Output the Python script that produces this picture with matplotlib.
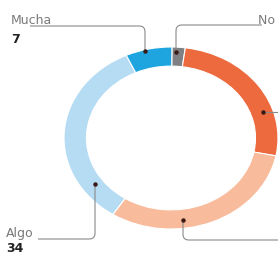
import matplotlib
matplotlib.use("Agg")
import matplotlib.pyplot as plt
import numpy as np

# ---- data ----
categories = ["No sabe", "Nada", "Poca", "Algo", "Mucha"]
values = [2, 26, 31, 34, 7]
colors = ["#7f8083", "#ec6a3e", "#f8bb9b", "#b6dcf4", "#1ea4de"]

W, H = 278, 255
fig = plt.figure(figsize=(W / 100, H / 100), dpi=100)

# pie axes (elliptical ring)
cx, cy, rx, ry = 171, 139, 107, 91
axp = fig.add_axes([(cx - rx) / W, (H - (cy + ry)) / H, 2 * rx / W, 2 * ry / H])
axp.pie(values, colors=colors, startangle=89.5, counterclock=False,
        radius=1.0, wedgeprops=dict(width=0.21, edgecolor="white", linewidth=0.8))
axp.set_aspect("auto")
axp.set_xlim(-1, 1)
axp.set_ylim(-1, 1)
axp.axis("off")

# overlay axes in pixel coordinates for leader lines and labels
ax = fig.add_axes([0, 0, 1, 1], zorder=5)
ax.set_xlim(0, W)
ax.set_ylim(H, 0)
ax.axis("off")
ax.patch.set_alpha(0)

line_col = "#8a8a8a"
r = 6


def rounded(points, rad):
    pts = [np.array(p, float) for p in points]
    out = [pts[0]]
    for i in range(1, len(pts) - 1):
        p0, p1, p2 = pts[i - 1], pts[i], pts[i + 1]
        d1 = (p1 - p0) / np.linalg.norm(p1 - p0)
        d2 = (p2 - p1) / np.linalg.norm(p2 - p1)
        a = p1 - d1 * rad
        b = p1 + d2 * rad
        t = np.linspace(0, 1, 12)
        curve = ((1 - t) ** 2)[:, None] * a + (2 * (1 - t) * t)[:, None] * p1 + (t ** 2)[:, None] * b
        out.extend(curve)
    out.append(pts[-1])
    out = np.array(out)
    return out[:, 0], out[:, 1]


leaders = [
    [(145, 52), (145, 27), (30, 27)],     # Mucha
    [(176, 53), (176, 26), (262, 26)],    # No sabe
    [(263, 113), (280, 113)],             # Nada
    [(183, 221), (183, 241), (280, 241)], # Poca
    [(95, 185), (95, 240), (38, 240)],    # Algo
]
for pts in leaders:
    xs, ys = rounded(pts, r)
    ax.plot(xs, ys, color=line_col, lw=0.8, solid_capstyle="butt")
    ax.plot([pts[0][0]], [pts[0][1]], "o", color="#3a1a14", ms=2.2)

lab_col = "#7a7a7a"
num_col = "#222222"
fs = 9
ax.text(11, 24.5, categories[4], fontsize=fs, color=lab_col, va="baseline", ha="left")
ax.text(11, 43, str(values[4]), fontsize=fs, color=num_col, fontweight="bold", va="baseline", ha="left")
ax.text(258, 24, categories[0], fontsize=fs, color=lab_col, va="baseline", ha="left")
ax.text(6, 237.5, categories[3], fontsize=fs, color=lab_col, va="baseline", ha="left")
ax.text(6, 252.5, str(values[3]), fontsize=fs, color=num_col, fontweight="bold", va="baseline", ha="left")

fig.savefig("out.png", dpi=100, facecolor="white")
